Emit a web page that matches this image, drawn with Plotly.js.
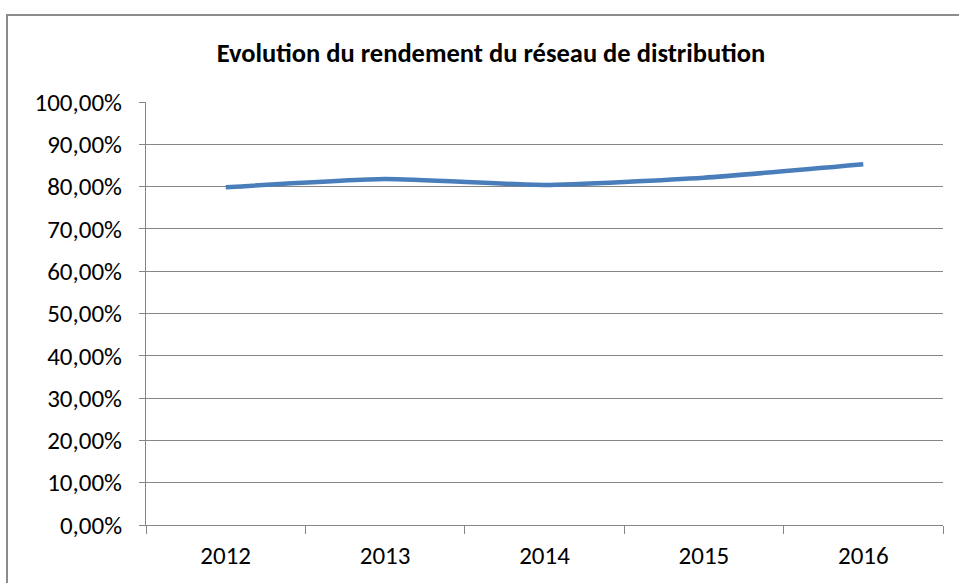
<!DOCTYPE html>
<html>
<head>
<meta charset="utf-8">
<script src="https://cdn.plot.ly/plotly-3.0.1.min.js"></script>
<style>
html,body{margin:0;padding:0;background:#fff;overflow:hidden;}
#chart{width:959px;height:583px;}
#frame{position:absolute;left:6px;top:14px;width:1000px;height:1000px;border:2px solid #8c8c8c;pointer-events:none;box-sizing:border-box;}
</style>
</head>
<body>
<div id="chart"></div>
<div id="frame"></div>
<script>
const years = ['2012', '2013', '2014', '2015', '2016'];
const rendement = [79.85, 81.8, 80.4, 82.1, 85.3];
const yTicks = [0, 10, 20, 30, 40, 50, 60, 70, 80, 90, 100];
const yTickText = yTicks.map(v => v.toFixed(2).replace('.', ',') + '%');

const font = 'Carlito, "Liberation Sans", Arial, sans-serif';

Plotly.newPlot('chart', [{
  x: years,
  y: rendement,
  type: 'scatter',
  mode: 'lines',
  line: {color: '#4a7ebb', width: 4.5, shape: 'spline', smoothing: 0.5},
  hoverinfo: 'none'
}], {
  width: 959, height: 583,
  margin: {l: 146, r: 16, t: 102, b: 58},
  paper_bgcolor: '#fff', plot_bgcolor: '#fff',
  showlegend: false,
  title: {
    text: '<b>Evolution du rendement du réseau de distribution</b>',
    font: {family: font, size: 26.5, color: '#000'},
    x: 0.512, xanchor: 'center', y: 0.91, yanchor: 'middle'
  },
  xaxis: {
    type: 'category',
    range: [-0.5, 4.5],
    tickson: 'boundaries',
    ticks: 'outside', ticklen: 8, tickcolor: '#868686', tickwidth: 1,
    showline: true, linecolor: '#868686', linewidth: 1,
    showgrid: false,
    ticklabelstandoff: 8,
    tickfont: {family: font, size: 25, color: '#000'},
    fixedrange: true
  },
  yaxis: {
    range: [0, 100],
    tickvals: yTicks,
    ticktext: yTickText,
    ticks: 'outside', ticklen: 6, tickcolor: '#868686',
    showline: true, linecolor: '#868686', linewidth: 1,
    showgrid: true, gridcolor: '#868686', gridwidth: 1,
    zeroline: false,
    ticklabelstandoff: 12,
    tickfont: {family: font, size: 25, color: '#000'},
    fixedrange: true
  }
}, {staticPlot: true});
</script>
</body>
</html>
